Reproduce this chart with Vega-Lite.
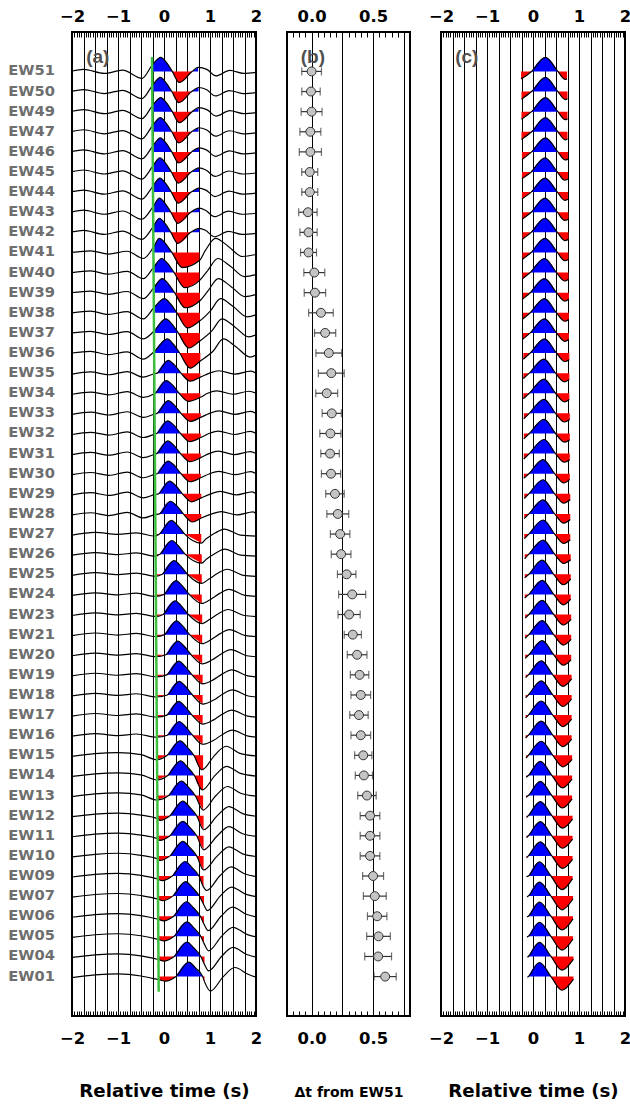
{
"$schema": "https://vega.github.io/schema/vega-lite/v6.json",
"padding": {"left": 7, "top": 7, "right": 5, "bottom": 5},
"bounds": "flush",
"spacing": 31,
"config": {
  "font": "DejaVu Sans",
  "view": {"stroke": "black", "strokeWidth": 2},
  "axis": {"labelFont": "DejaVu Sans", "labelFontWeight": "bold", "labelColor": "black", "titleFont": "DejaVu Sans", "titleFontWeight": "bold", "titleColor": "black", "domain": false, "labelOverlap": false, "labelFlush": false, "labelBound": false}
},
"datasets": {
"gl": [{"t":-0.26,"k":-0.72},{"t":-0.115,"k":45.75}],
"lab": [{"p":"(a)","x":-1.44,"y":-0.72},{"p":"(b)","x":0.01,"y":-0.72},{"p":"(c)","x":-1.44,"y":-0.72}],
"dt": [
{"k":0,"n":"EW51","d":0,"lo":-0.08,"hi":0.08},{"k":1,"n":"EW50","d":-0.005,"lo":-0.08,"hi":0.07},{"k":2,"n":"EW49","d":0,"lo":-0.085,"hi":0.085},{"k":3,"n":"EW47","d":-0.01,"lo":-0.095,"hi":0.075},{"k":4,"n":"EW46","d":-0.01,"lo":-0.1,"hi":0.08},{"k":5,"n":"EW45","d":-0.015,"lo":-0.08,"hi":0.05},{"k":6,"n":"EW44","d":-0.015,"lo":-0.08,"hi":0.05},{"k":7,"n":"EW43","d":-0.03,"lo":-0.105,"hi":0.045},{"k":8,"n":"EW42","d":-0.025,"lo":-0.095,"hi":0.045},{"k":9,"n":"EW41","d":-0.025,"lo":-0.09,"hi":0.04},
{"k":10,"n":"EW40","d":0.022,"lo":-0.063,"hi":0.107},{"k":11,"n":"EW39","d":0.027,"lo":-0.06,"hi":0.114},{"k":12,"n":"EW38","d":0.076,"lo":-0.024,"hi":0.176},{"k":13,"n":"EW37","d":0.11,"lo":0.024,"hi":0.196},{"k":14,"n":"EW36","d":0.14,"lo":0.035,"hi":0.245},{"k":15,"n":"EW35","d":0.16,"lo":0.055,"hi":0.265},{"k":16,"n":"EW34","d":0.123,"lo":0.034,"hi":0.212},{"k":17,"n":"EW33","d":0.164,"lo":0.086,"hi":0.242},{"k":18,"n":"EW32","d":0.153,"lo":0.067,"hi":0.239},{"k":19,"n":"EW31","d":0.15,"lo":0.075,"hi":0.225},
{"k":20,"n":"EW30","d":0.158,"lo":0.08,"hi":0.236},{"k":21,"n":"EW29","d":0.19,"lo":0.115,"hi":0.265},{"k":22,"n":"EW28","d":0.213,"lo":0.124,"hi":0.302},{"k":23,"n":"EW27","d":0.232,"lo":0.153,"hi":0.311},{"k":24,"n":"EW26","d":0.24,"lo":0.16,"hi":0.32},{"k":25,"n":"EW25","d":0.285,"lo":0.21,"hi":0.36},{"k":26,"n":"EW24","d":0.33,"lo":0.22,"hi":0.44},{"k":27,"n":"EW23","d":0.305,"lo":0.215,"hi":0.395},{"k":28,"n":"EW21","d":0.335,"lo":0.265,"hi":0.405},{"k":29,"n":"EW20","d":0.37,"lo":0.29,"hi":0.45},
{"k":30,"n":"EW19","d":0.39,"lo":0.315,"hi":0.465},{"k":31,"n":"EW18","d":0.4,"lo":0.32,"hi":0.48},{"k":32,"n":"EW17","d":0.385,"lo":0.31,"hi":0.46},{"k":33,"n":"EW16","d":0.4,"lo":0.32,"hi":0.48},{"k":34,"n":"EW15","d":0.42,"lo":0.35,"hi":0.49},{"k":35,"n":"EW14","d":0.425,"lo":0.355,"hi":0.495},{"k":36,"n":"EW13","d":0.45,"lo":0.375,"hi":0.525},{"k":37,"n":"EW12","d":0.475,"lo":0.395,"hi":0.555},{"k":38,"n":"EW11","d":0.475,"lo":0.395,"hi":0.555},{"k":39,"n":"EW10","d":0.475,"lo":0.395,"hi":0.555},
{"k":40,"n":"EW09","d":0.5,"lo":0.415,"hi":0.585},{"k":41,"n":"EW07","d":0.514,"lo":0.421,"hi":0.607},{"k":42,"n":"EW06","d":0.533,"lo":0.454,"hi":0.612},{"k":43,"n":"EW05","d":0.544,"lo":0.448,"hi":0.64},{"k":44,"n":"EW04","d":0.541,"lo":0.432,"hi":0.65},{"k":45,"n":"EW01","d":0.598,"lo":0.508,"hi":0.688}
],
"wa": [
{"k":0,"t":-2,"v":-0.02},{"k":0,"t":-1.75,"v":-0.1},{"k":0,"t":-1.3,"v":0.1},{"k":0,"t":-0.9,"v":-0.06},{"k":0,"t":-0.48,"v":0.35},{"k":0,"t":-0.26,"v":-0.3,"g":"p1"},{"k":0,"t":-0.07,"v":-0.7,"g":"p1"},{"k":0,"t":0.06,"v":-0.42,"g":"p1"},{"k":0,"t":0.18,"v":0,"g":"p1"},{"k":0,"t":0.18,"v":0,"g":"n1"},{"k":0,"t":0.33,"v":0.55,"g":"n1"},{"k":0,"t":0.61,"v":0,"g":"n1"},{"k":0,"t":0.61,"v":0,"g":"p2"},{"k":0,"t":0.74,"v":-0.2,"g":"p2"},{"k":0,"t":0.93,"v":-0.1},{"k":0,"t":1.13,"v":0.22},{"k":0,"t":1.43,"v":-0.05},{"k":0,"t":1.73,"v":0.1},{"k":0,"t":2,"v":0.05},
{"k":1,"t":-2,"v":0.98},{"k":1,"t":-1.75,"v":0.9},{"k":1,"t":-1.3,"v":1.1},{"k":1,"t":-0.9,"v":0.94},{"k":1,"t":-0.48,"v":1.35},{"k":1,"t":-0.25,"v":0.7,"g":"p1"},{"k":1,"t":-0.08,"v":0.3,"g":"p1"},{"k":1,"t":0.05,"v":0.58,"g":"p1"},{"k":1,"t":0.17,"v":1,"g":"p1"},{"k":1,"t":0.17,"v":1,"g":"n1"},{"k":1,"t":0.32,"v":1.55,"g":"n1"},{"k":1,"t":0.6,"v":1,"g":"n1"},{"k":1,"t":0.6,"v":1,"g":"p2"},{"k":1,"t":0.75,"v":0.8,"g":"p2"},{"k":1,"t":0.92,"v":0.9},{"k":1,"t":1.12,"v":1.22},{"k":1,"t":1.42,"v":0.95},{"k":1,"t":1.72,"v":1.1},{"k":1,"t":2,"v":1.05},
{"k":2,"t":-2,"v":1.98},{"k":2,"t":-1.75,"v":1.9},{"k":2,"t":-1.3,"v":2.1},{"k":2,"t":-0.9,"v":1.94},{"k":2,"t":-0.48,"v":2.35},{"k":2,"t":-0.25,"v":1.7,"g":"p1"},{"k":2,"t":-0.07,"v":1.3,"g":"p1"},{"k":2,"t":0.06,"v":1.58,"g":"p1"},{"k":2,"t":0.18,"v":2,"g":"p1"},{"k":2,"t":0.18,"v":2,"g":"n1"},{"k":2,"t":0.33,"v":2.55,"g":"n1"},{"k":2,"t":0.61,"v":2,"g":"n1"},{"k":2,"t":0.61,"v":2,"g":"p2"},{"k":2,"t":0.75,"v":1.8,"g":"p2"},{"k":2,"t":0.93,"v":1.9},{"k":2,"t":1.13,"v":2.22},{"k":2,"t":1.43,"v":1.95},{"k":2,"t":1.73,"v":2.1},{"k":2,"t":2,"v":2.05},
{"k":3,"t":-2,"v":2.98},{"k":3,"t":-1.75,"v":2.9},{"k":3,"t":-1.3,"v":3.1},{"k":3,"t":-0.9,"v":2.94},{"k":3,"t":-0.48,"v":3.35},{"k":3,"t":-0.25,"v":2.7,"g":"p1"},{"k":3,"t":-0.08,"v":2.3,"g":"p1"},{"k":3,"t":0.05,"v":2.58,"g":"p1"},{"k":3,"t":0.17,"v":3,"g":"p1"},{"k":3,"t":0.17,"v":3,"g":"n1"},{"k":3,"t":0.32,"v":3.55,"g":"n1"},{"k":3,"t":0.6,"v":3,"g":"n1"},{"k":3,"t":0.6,"v":3,"g":"p2"},{"k":3,"t":0.75,"v":2.8,"g":"p2"},{"k":3,"t":0.92,"v":2.9},{"k":3,"t":1.12,"v":3.22},{"k":3,"t":1.42,"v":2.95},{"k":3,"t":1.72,"v":3.1},{"k":3,"t":2,"v":3.05},
{"k":4,"t":-2,"v":3.98},{"k":4,"t":-1.75,"v":3.9},{"k":4,"t":-1.3,"v":4.1},{"k":4,"t":-0.9,"v":3.94},{"k":4,"t":-0.48,"v":4.35},{"k":4,"t":-0.24,"v":3.7,"g":"p1"},{"k":4,"t":-0.08,"v":3.3,"g":"p1"},{"k":4,"t":0.05,"v":3.58,"g":"p1"},{"k":4,"t":0.17,"v":4,"g":"p1"},{"k":4,"t":0.17,"v":4,"g":"n1"},{"k":4,"t":0.32,"v":4.55,"g":"n1"},{"k":4,"t":0.6,"v":4,"g":"n1"},{"k":4,"t":0.6,"v":4,"g":"p2"},{"k":4,"t":0.76,"v":3.8,"g":"p2"},{"k":4,"t":0.92,"v":3.9},{"k":4,"t":1.12,"v":4.22},{"k":4,"t":1.42,"v":3.95},{"k":4,"t":1.72,"v":4.1},{"k":4,"t":2,"v":4.05},
{"k":5,"t":-2,"v":4.98},{"k":5,"t":-1.75,"v":4.9},{"k":5,"t":-1.3,"v":5.1},{"k":5,"t":-0.9,"v":4.94},{"k":5,"t":-0.48,"v":5.35},{"k":5,"t":-0.24,"v":4.7,"g":"p1"},{"k":5,"t":-0.09,"v":4.3,"g":"p1"},{"k":5,"t":0.04,"v":4.58,"g":"p1"},{"k":5,"t":0.16,"v":5,"g":"p1"},{"k":5,"t":0.16,"v":5,"g":"n1"},{"k":5,"t":0.31,"v":5.55,"g":"n1"},{"k":5,"t":0.59,"v":5,"g":"n1"},{"k":5,"t":0.59,"v":5,"g":"p2"},{"k":5,"t":0.76,"v":4.8,"g":"p2"},{"k":5,"t":0.91,"v":4.9},{"k":5,"t":1.11,"v":5.22},{"k":5,"t":1.41,"v":4.95},{"k":5,"t":1.71,"v":5.1},{"k":5,"t":2,"v":5.05},
{"k":6,"t":-2,"v":5.98},{"k":6,"t":-1.75,"v":5.9},{"k":6,"t":-1.3,"v":6.1},{"k":6,"t":-0.9,"v":5.94},{"k":6,"t":-0.48,"v":6.35},{"k":6,"t":-0.24,"v":5.7,"g":"p1"},{"k":6,"t":-0.09,"v":5.3,"g":"p1"},{"k":6,"t":0.04,"v":5.58,"g":"p1"},{"k":6,"t":0.16,"v":6,"g":"p1"},{"k":6,"t":0.16,"v":6,"g":"n1"},{"k":6,"t":0.31,"v":6.55,"g":"n1"},{"k":6,"t":0.59,"v":6,"g":"n1"},{"k":6,"t":0.59,"v":6,"g":"p2"},{"k":6,"t":0.76,"v":5.8,"g":"p2"},{"k":6,"t":0.91,"v":5.9},{"k":6,"t":1.11,"v":6.22},{"k":6,"t":1.41,"v":5.95},{"k":6,"t":1.71,"v":6.1},{"k":6,"t":2,"v":6.05},
{"k":7,"t":-2,"v":6.98},{"k":7,"t":-1.75,"v":6.9},{"k":7,"t":-1.3,"v":7.1},{"k":7,"t":-0.9,"v":6.94},{"k":7,"t":-0.48,"v":7.35},{"k":7,"t":-0.23,"v":6.7,"g":"p1"},{"k":7,"t":-0.1,"v":6.3,"g":"p1"},{"k":7,"t":0.03,"v":6.58,"g":"p1"},{"k":7,"t":0.15,"v":7,"g":"p1"},{"k":7,"t":0.15,"v":7,"g":"n1"},{"k":7,"t":0.3,"v":7.55,"g":"n1"},{"k":7,"t":0.58,"v":7,"g":"n1"},{"k":7,"t":0.58,"v":7,"g":"p2"},{"k":7,"t":0.77,"v":6.8,"g":"p2"},{"k":7,"t":0.9,"v":6.9},{"k":7,"t":1.1,"v":7.22},{"k":7,"t":1.4,"v":6.95},{"k":7,"t":1.7,"v":7.1},{"k":7,"t":2,"v":7.05},
{"k":8,"t":-2,"v":7.98},{"k":8,"t":-1.75,"v":7.9},{"k":8,"t":-1.3,"v":8.1},{"k":8,"t":-0.9,"v":7.94},{"k":8,"t":-0.48,"v":8.35},{"k":8,"t":-0.23,"v":7.7,"g":"p1"},{"k":8,"t":-0.1,"v":7.3,"g":"p1"},{"k":8,"t":0.03,"v":7.58,"g":"p1"},{"k":8,"t":0.15,"v":8,"g":"p1"},{"k":8,"t":0.15,"v":8,"g":"n1"},{"k":8,"t":0.3,"v":8.55,"g":"n1"},{"k":8,"t":0.58,"v":8,"g":"n1"},{"k":8,"t":0.58,"v":8,"g":"p2"},{"k":8,"t":0.77,"v":7.8,"g":"p2"},{"k":8,"t":0.9,"v":7.9},{"k":8,"t":1.1,"v":8.22},{"k":8,"t":1.4,"v":7.95},{"k":8,"t":1.7,"v":8.1},{"k":8,"t":2,"v":8.05},
{"k":9,"t":-2,"v":9},{"k":9,"t":-1.6,"v":8.92},{"k":9,"t":-1.2,"v":9.08},{"k":9,"t":-0.8,"v":8.94},{"k":9,"t":-0.45,"v":9.3},{"k":9,"t":-0.23,"v":8.75,"g":"p1"},{"k":9,"t":-0.1,"v":8.3,"g":"p1"},{"k":9,"t":0.03,"v":8.55,"g":"p1"},{"k":9,"t":0.17,"v":9,"g":"p1"},{"k":9,"t":0.17,"v":9,"g":"n1"},{"k":9,"t":0.4,"v":9.75,"g":"n1"},{"k":9,"t":0.77,"v":9.4,"g":"n1"},{"k":9,"t":0.9,"v":8.9},{"k":9,"t":1.12,"v":8.3},{"k":9,"t":1.4,"v":8.7},{"k":9,"t":1.7,"v":9.2},{"k":9,"t":2,"v":9.1},
{"k":10,"t":-2,"v":10},{"k":10,"t":-1.6,"v":9.92},{"k":10,"t":-1.2,"v":10.08},{"k":10,"t":-0.8,"v":9.94},{"k":10,"t":-0.45,"v":10.3},{"k":10,"t":-0.23,"v":9.75,"g":"p1"},{"k":10,"t":-0.05,"v":9.3,"g":"p1"},{"k":10,"t":0.08,"v":9.55,"g":"p1"},{"k":10,"t":0.22,"v":10,"g":"p1"},{"k":10,"t":0.22,"v":10,"g":"n1"},{"k":10,"t":0.45,"v":10.75,"g":"n1"},{"k":10,"t":0.77,"v":10.4,"g":"n1"},{"k":10,"t":0.95,"v":9.9},{"k":10,"t":1.17,"v":9.3},{"k":10,"t":1.45,"v":9.7},{"k":10,"t":1.75,"v":10.2},{"k":10,"t":2,"v":10.1},
{"k":11,"t":-2,"v":11},{"k":11,"t":-1.6,"v":10.92},{"k":11,"t":-1.2,"v":11.08},{"k":11,"t":-0.8,"v":10.94},{"k":11,"t":-0.45,"v":11.3},{"k":11,"t":-0.22,"v":10.75,"g":"p1"},{"k":11,"t":-0.04,"v":10.3,"g":"p1"},{"k":11,"t":0.09,"v":10.55,"g":"p1"},{"k":11,"t":0.23,"v":11,"g":"p1"},{"k":11,"t":0.23,"v":11,"g":"n1"},{"k":11,"t":0.46,"v":11.75,"g":"n1"},{"k":11,"t":0.78,"v":11.4,"g":"n1"},{"k":11,"t":0.96,"v":10.9},{"k":11,"t":1.18,"v":10.3},{"k":11,"t":1.46,"v":10.7},{"k":11,"t":1.76,"v":11.2},{"k":11,"t":2,"v":11.1},
{"k":12,"t":-2,"v":12},{"k":12,"t":-1.6,"v":11.92},{"k":12,"t":-1.2,"v":12.08},{"k":12,"t":-0.8,"v":11.94},{"k":12,"t":-0.45,"v":12.3},{"k":12,"t":-0.22,"v":11.75,"g":"p1"},{"k":12,"t":0.01,"v":11.3,"g":"p1"},{"k":12,"t":0.14,"v":11.55,"g":"p1"},{"k":12,"t":0.28,"v":12,"g":"p1"},{"k":12,"t":0.28,"v":12,"g":"n1"},{"k":12,"t":0.51,"v":12.75,"g":"n1"},{"k":12,"t":0.78,"v":12.4,"g":"n1"},{"k":12,"t":1.01,"v":11.9},{"k":12,"t":1.23,"v":11.3},{"k":12,"t":1.51,"v":11.7},{"k":12,"t":1.81,"v":12.2},{"k":12,"t":2,"v":12.1},
{"k":13,"t":-2,"v":13},{"k":13,"t":-1.6,"v":12.92},{"k":13,"t":-1.2,"v":13.08},{"k":13,"t":-0.8,"v":12.94},{"k":13,"t":-0.45,"v":13.3},{"k":13,"t":-0.22,"v":12.92,"g":"p1"},{"k":13,"t":0.04,"v":12.3,"g":"p1"},{"k":13,"t":0.17,"v":12.55,"g":"p1"},{"k":13,"t":0.31,"v":13,"g":"p1"},{"k":13,"t":0.31,"v":13,"g":"n1"},{"k":13,"t":0.54,"v":13.75,"g":"n1"},{"k":13,"t":0.78,"v":13.4,"g":"n1"},{"k":13,"t":1.04,"v":12.9},{"k":13,"t":1.26,"v":12.3},{"k":13,"t":1.54,"v":12.7},{"k":13,"t":1.84,"v":13.2},{"k":13,"t":2,"v":13.1},
{"k":14,"t":-2,"v":14},{"k":14,"t":-1.6,"v":13.92},{"k":14,"t":-1.2,"v":14.08},{"k":14,"t":-0.8,"v":13.94},{"k":14,"t":-0.45,"v":14.3},{"k":14,"t":-0.21,"v":13.92,"g":"p1"},{"k":14,"t":0.07,"v":13.3,"g":"p1"},{"k":14,"t":0.2,"v":13.55,"g":"p1"},{"k":14,"t":0.34,"v":14,"g":"p1"},{"k":14,"t":0.34,"v":14,"g":"n1"},{"k":14,"t":0.57,"v":14.75,"g":"n1"},{"k":14,"t":0.79,"v":14.4,"g":"n1"},{"k":14,"t":1.07,"v":13.9},{"k":14,"t":1.29,"v":13.3},{"k":14,"t":1.57,"v":13.7},{"k":14,"t":1.87,"v":14.2},{"k":14,"t":2,"v":14.1},
{"k":15,"t":-2,"v":15.05},{"k":15,"t":-1.6,"v":14.94},{"k":15,"t":-1.2,"v":15.08},{"k":15,"t":-0.8,"v":14.92},{"k":15,"t":-0.45,"v":15.2},{"k":15,"t":-0.21,"v":15.03},{"k":15,"t":-0.15,"v":15,"g":"p1"},{"k":15,"t":0.09,"v":14.37,"g":"p1"},{"k":15,"t":0.23,"v":14.6,"g":"p1"},{"k":15,"t":0.37,"v":15,"g":"p1"},{"k":15,"t":0.37,"v":15,"g":"n1"},{"k":15,"t":0.57,"v":15.4,"g":"n1"},{"k":15,"t":0.79,"v":15.2,"g":"n1"},{"k":15,"t":0.99,"v":15},{"k":15,"t":1.19,"v":14.88},{"k":15,"t":1.54,"v":15.05},{"k":15,"t":1.89,"v":14.9},{"k":15,"t":2,"v":15},
{"k":16,"t":-2,"v":16.05},{"k":16,"t":-1.6,"v":15.94},{"k":16,"t":-1.2,"v":16.08},{"k":16,"t":-0.8,"v":15.92},{"k":16,"t":-0.45,"v":16.2},{"k":16,"t":-0.21,"v":16.03},{"k":16,"t":-0.19,"v":16,"g":"p1"},{"k":16,"t":0.05,"v":15.37,"g":"p1"},{"k":16,"t":0.19,"v":15.6,"g":"p1"},{"k":16,"t":0.33,"v":16,"g":"p1"},{"k":16,"t":0.33,"v":16,"g":"n1"},{"k":16,"t":0.53,"v":16.4,"g":"n1"},{"k":16,"t":0.79,"v":16.2,"g":"n1"},{"k":16,"t":0.95,"v":16},{"k":16,"t":1.15,"v":15.88},{"k":16,"t":1.5,"v":16.05},{"k":16,"t":1.85,"v":15.9},{"k":16,"t":2,"v":16},
{"k":17,"t":-2,"v":17.05},{"k":17,"t":-1.6,"v":16.94},{"k":17,"t":-1.2,"v":17.08},{"k":17,"t":-0.8,"v":16.92},{"k":17,"t":-0.45,"v":17.2},{"k":17,"t":-0.2,"v":17.03},{"k":17,"t":-0.15,"v":17,"g":"p1"},{"k":17,"t":0.09,"v":16.37,"g":"p1"},{"k":17,"t":0.23,"v":16.6,"g":"p1"},{"k":17,"t":0.37,"v":17,"g":"p1"},{"k":17,"t":0.37,"v":17,"g":"n1"},{"k":17,"t":0.57,"v":17.4,"g":"n1"},{"k":17,"t":0.8,"v":17.2,"g":"n1"},{"k":17,"t":0.99,"v":17},{"k":17,"t":1.19,"v":16.88},{"k":17,"t":1.54,"v":17.05},{"k":17,"t":1.89,"v":16.9},{"k":17,"t":2,"v":17},
{"k":18,"t":-2,"v":18.05},{"k":18,"t":-1.6,"v":17.94},{"k":18,"t":-1.2,"v":18.08},{"k":18,"t":-0.8,"v":17.92},{"k":18,"t":-0.45,"v":18.2},{"k":18,"t":-0.2,"v":18.03},{"k":18,"t":-0.16,"v":18,"g":"p1"},{"k":18,"t":0.08,"v":17.37,"g":"p1"},{"k":18,"t":0.22,"v":17.6,"g":"p1"},{"k":18,"t":0.36,"v":18,"g":"p1"},{"k":18,"t":0.36,"v":18,"g":"n1"},{"k":18,"t":0.56,"v":18.4,"g":"n1"},{"k":18,"t":0.8,"v":18.2,"g":"n1"},{"k":18,"t":0.98,"v":18},{"k":18,"t":1.18,"v":17.88},{"k":18,"t":1.53,"v":18.05},{"k":18,"t":1.88,"v":17.9},{"k":18,"t":2,"v":18},
{"k":19,"t":-2,"v":19.05},{"k":19,"t":-1.6,"v":18.94},{"k":19,"t":-1.2,"v":19.08},{"k":19,"t":-0.8,"v":18.92},{"k":19,"t":-0.45,"v":19.2},{"k":19,"t":-0.2,"v":19.03},{"k":19,"t":-0.16,"v":19,"g":"p1"},{"k":19,"t":0.08,"v":18.37,"g":"p1"},{"k":19,"t":0.22,"v":18.6,"g":"p1"},{"k":19,"t":0.36,"v":19,"g":"p1"},{"k":19,"t":0.36,"v":19,"g":"n1"},{"k":19,"t":0.56,"v":19.4,"g":"n1"},{"k":19,"t":0.8,"v":19.2,"g":"n1"},{"k":19,"t":0.98,"v":19},{"k":19,"t":1.18,"v":18.88},{"k":19,"t":1.53,"v":19.05},{"k":19,"t":1.88,"v":18.9},{"k":19,"t":2,"v":19},
{"k":20,"t":-2,"v":20.05},{"k":20,"t":-1.6,"v":19.94},{"k":20,"t":-1.2,"v":20.08},{"k":20,"t":-0.8,"v":19.92},{"k":20,"t":-0.45,"v":20.2},{"k":20,"t":-0.2,"v":20.03},{"k":20,"t":-0.15,"v":20,"g":"p1"},{"k":20,"t":0.09,"v":19.37,"g":"p1"},{"k":20,"t":0.23,"v":19.6,"g":"p1"},{"k":20,"t":0.37,"v":20,"g":"p1"},{"k":20,"t":0.37,"v":20,"g":"n1"},{"k":20,"t":0.57,"v":20.4,"g":"n1"},{"k":20,"t":0.8,"v":20.2,"g":"n1"},{"k":20,"t":0.99,"v":20},{"k":20,"t":1.19,"v":19.88},{"k":20,"t":1.54,"v":20.05},{"k":20,"t":1.89,"v":19.9},{"k":20,"t":2,"v":20},
{"k":21,"t":-2,"v":21.05},{"k":21,"t":-1.6,"v":20.94},{"k":21,"t":-1.2,"v":21.08},{"k":21,"t":-0.8,"v":20.92},{"k":21,"t":-0.45,"v":21.2},{"k":21,"t":-0.19,"v":21.03},{"k":21,"t":-0.12,"v":21,"g":"p1"},{"k":21,"t":0.12,"v":20.37,"g":"p1"},{"k":21,"t":0.26,"v":20.6,"g":"p1"},{"k":21,"t":0.4,"v":21,"g":"p1"},{"k":21,"t":0.4,"v":21,"g":"n1"},{"k":21,"t":0.6,"v":21.4,"g":"n1"},{"k":21,"t":0.81,"v":21.2,"g":"n1"},{"k":21,"t":1.02,"v":21},{"k":21,"t":1.22,"v":20.88},{"k":21,"t":1.57,"v":21.05},{"k":21,"t":1.92,"v":20.9},{"k":21,"t":2,"v":21},
{"k":22,"t":-2,"v":22.05},{"k":22,"t":-1.6,"v":21.94},{"k":22,"t":-1.2,"v":22.08},{"k":22,"t":-0.8,"v":21.92},{"k":22,"t":-0.45,"v":22.2},{"k":22,"t":-0.19,"v":22.03},{"k":22,"t":-0.1,"v":22,"g":"p1"},{"k":22,"t":0.14,"v":21.37,"g":"p1"},{"k":22,"t":0.28,"v":21.6,"g":"p1"},{"k":22,"t":0.42,"v":22,"g":"p1"},{"k":22,"t":0.42,"v":22,"g":"n1"},{"k":22,"t":0.62,"v":22.4,"g":"n1"},{"k":22,"t":0.81,"v":22.2,"g":"n1"},{"k":22,"t":1.04,"v":22},{"k":22,"t":1.24,"v":21.88},{"k":22,"t":1.59,"v":22.05},{"k":22,"t":1.94,"v":21.9},{"k":22,"t":2,"v":22},
{"k":23,"t":-2,"v":23.05},{"k":23,"t":-1.5,"v":22.92},{"k":23,"t":-1,"v":23.02},{"k":23,"t":-0.6,"v":22.94},{"k":23,"t":-0.19,"v":23.1,"g":"n0"},{"k":23,"t":-0.1,"v":23,"g":"n0"},{"k":23,"t":-0.1,"v":23,"g":"p1"},{"k":23,"t":0.16,"v":22.32,"g":"p1"},{"k":23,"t":0.3,"v":22.58,"g":"p1"},{"k":23,"t":0.45,"v":23,"g":"p1"},{"k":23,"t":0.45,"v":23,"g":"n1"},{"k":23,"t":0.81,"v":23.45,"g":"n1"},{"k":23,"t":0.91,"v":23.25},{"k":23,"t":1.11,"v":22.95},{"k":23,"t":1.31,"v":22.75},{"k":23,"t":1.66,"v":23.05},{"k":23,"t":2,"v":23.1},
{"k":24,"t":-2,"v":24.05},{"k":24,"t":-1.5,"v":23.92},{"k":24,"t":-1,"v":24.02},{"k":24,"t":-0.6,"v":23.94},{"k":24,"t":-0.18,"v":24.1,"g":"n0"},{"k":24,"t":-0.09,"v":24,"g":"n0"},{"k":24,"t":-0.09,"v":24,"g":"p1"},{"k":24,"t":0.17,"v":23.32,"g":"p1"},{"k":24,"t":0.31,"v":23.58,"g":"p1"},{"k":24,"t":0.46,"v":24,"g":"p1"},{"k":24,"t":0.46,"v":24,"g":"n1"},{"k":24,"t":0.82,"v":24.45,"g":"n1"},{"k":24,"t":0.92,"v":24.25},{"k":24,"t":1.12,"v":23.95},{"k":24,"t":1.32,"v":23.75},{"k":24,"t":1.67,"v":24.05},{"k":24,"t":2,"v":24.1},
{"k":25,"t":-2,"v":25.05},{"k":25,"t":-1.5,"v":24.92},{"k":25,"t":-1,"v":25.02},{"k":25,"t":-0.6,"v":24.94},{"k":25,"t":-0.18,"v":25.1,"g":"n0"},{"k":25,"t":-0.04,"v":25,"g":"n0"},{"k":25,"t":-0.04,"v":25,"g":"p1"},{"k":25,"t":0.22,"v":24.32,"g":"p1"},{"k":25,"t":0.36,"v":24.58,"g":"p1"},{"k":25,"t":0.51,"v":25,"g":"p1"},{"k":25,"t":0.51,"v":25,"g":"n1"},{"k":25,"t":0.82,"v":25.45,"g":"n1"},{"k":25,"t":0.97,"v":25.25},{"k":25,"t":1.17,"v":24.95},{"k":25,"t":1.37,"v":24.75},{"k":25,"t":1.72,"v":25.05},{"k":25,"t":2,"v":25.1},
{"k":26,"t":-2,"v":26.05},{"k":26,"t":-1.5,"v":25.92},{"k":26,"t":-1,"v":26.02},{"k":26,"t":-0.6,"v":25.94},{"k":26,"t":-0.18,"v":26.1,"g":"n0"},{"k":26,"t":0,"v":26,"g":"n0"},{"k":26,"t":0,"v":26,"g":"p1"},{"k":26,"t":0.26,"v":25.32,"g":"p1"},{"k":26,"t":0.4,"v":25.58,"g":"p1"},{"k":26,"t":0.55,"v":26,"g":"p1"},{"k":26,"t":0.55,"v":26,"g":"n1"},{"k":26,"t":0.82,"v":26.45,"g":"n1"},{"k":26,"t":1.01,"v":26.25},{"k":26,"t":1.21,"v":25.95},{"k":26,"t":1.41,"v":25.75},{"k":26,"t":1.76,"v":26.05},{"k":26,"t":2,"v":26.1},
{"k":27,"t":-2,"v":27.05},{"k":27,"t":-1.5,"v":26.92},{"k":27,"t":-1,"v":27.02},{"k":27,"t":-0.6,"v":26.94},{"k":27,"t":-0.17,"v":27.1,"g":"n0"},{"k":27,"t":-0.02,"v":27,"g":"n0"},{"k":27,"t":-0.02,"v":27,"g":"p1"},{"k":27,"t":0.24,"v":26.32,"g":"p1"},{"k":27,"t":0.38,"v":26.58,"g":"p1"},{"k":27,"t":0.53,"v":27,"g":"p1"},{"k":27,"t":0.53,"v":27,"g":"n1"},{"k":27,"t":0.83,"v":27.45,"g":"n1"},{"k":27,"t":0.99,"v":27.25},{"k":27,"t":1.19,"v":26.95},{"k":27,"t":1.39,"v":26.75},{"k":27,"t":1.74,"v":27.05},{"k":27,"t":2,"v":27.1},
{"k":28,"t":-2,"v":28.05},{"k":28,"t":-1.5,"v":27.92},{"k":28,"t":-1,"v":28.02},{"k":28,"t":-0.6,"v":27.94},{"k":28,"t":-0.17,"v":28.1,"g":"n0"},{"k":28,"t":0.01,"v":28,"g":"n0"},{"k":28,"t":0.01,"v":28,"g":"p1"},{"k":28,"t":0.27,"v":27.32,"g":"p1"},{"k":28,"t":0.41,"v":27.58,"g":"p1"},{"k":28,"t":0.56,"v":28,"g":"p1"},{"k":28,"t":0.56,"v":28,"g":"n1"},{"k":28,"t":0.83,"v":28.45,"g":"n1"},{"k":28,"t":1.02,"v":28.25},{"k":28,"t":1.22,"v":27.95},{"k":28,"t":1.42,"v":27.75},{"k":28,"t":1.77,"v":28.05},{"k":28,"t":2,"v":28.1},
{"k":29,"t":-2,"v":29.05},{"k":29,"t":-1.5,"v":28.92},{"k":29,"t":-1,"v":29.02},{"k":29,"t":-0.6,"v":28.94},{"k":29,"t":-0.17,"v":29.1,"g":"n0"},{"k":29,"t":0.04,"v":29,"g":"n0"},{"k":29,"t":0.04,"v":29,"g":"p1"},{"k":29,"t":0.3,"v":28.32,"g":"p1"},{"k":29,"t":0.44,"v":28.58,"g":"p1"},{"k":29,"t":0.59,"v":29,"g":"p1"},{"k":29,"t":0.59,"v":29,"g":"n1"},{"k":29,"t":0.83,"v":29.45,"g":"n1"},{"k":29,"t":1.05,"v":29.25},{"k":29,"t":1.25,"v":28.95},{"k":29,"t":1.45,"v":28.75},{"k":29,"t":1.8,"v":29.05},{"k":29,"t":2,"v":29.1},
{"k":30,"t":-2,"v":30.05},{"k":30,"t":-1.5,"v":29.92},{"k":30,"t":-1,"v":30.02},{"k":30,"t":-0.6,"v":29.94},{"k":30,"t":-0.16,"v":30.1,"g":"n0"},{"k":30,"t":0.06,"v":30,"g":"n0"},{"k":30,"t":0.06,"v":30,"g":"p1"},{"k":30,"t":0.32,"v":29.32,"g":"p1"},{"k":30,"t":0.46,"v":29.58,"g":"p1"},{"k":30,"t":0.61,"v":30,"g":"p1"},{"k":30,"t":0.61,"v":30,"g":"n1"},{"k":30,"t":0.84,"v":30.45,"g":"n1"},{"k":30,"t":1.07,"v":30.25},{"k":30,"t":1.27,"v":29.95},{"k":30,"t":1.47,"v":29.75},{"k":30,"t":1.82,"v":30.05},{"k":30,"t":2,"v":30.1},
{"k":31,"t":-2,"v":31.05},{"k":31,"t":-1.5,"v":30.92},{"k":31,"t":-1,"v":31.02},{"k":31,"t":-0.6,"v":30.94},{"k":31,"t":-0.16,"v":31.1,"g":"n0"},{"k":31,"t":0.07,"v":31,"g":"n0"},{"k":31,"t":0.07,"v":31,"g":"p1"},{"k":31,"t":0.33,"v":30.32,"g":"p1"},{"k":31,"t":0.47,"v":30.58,"g":"p1"},{"k":31,"t":0.62,"v":31,"g":"p1"},{"k":31,"t":0.62,"v":31,"g":"n1"},{"k":31,"t":0.84,"v":31.45,"g":"n1"},{"k":31,"t":1.08,"v":31.25},{"k":31,"t":1.28,"v":30.95},{"k":31,"t":1.48,"v":30.75},{"k":31,"t":1.83,"v":31.05},{"k":31,"t":2,"v":31.1},
{"k":32,"t":-2,"v":32.05},{"k":32,"t":-1.5,"v":31.92},{"k":32,"t":-1,"v":32.02},{"k":32,"t":-0.6,"v":31.94},{"k":32,"t":-0.16,"v":32.1,"g":"n0"},{"k":32,"t":0.06,"v":32,"g":"n0"},{"k":32,"t":0.06,"v":32,"g":"p1"},{"k":32,"t":0.32,"v":31.32,"g":"p1"},{"k":32,"t":0.46,"v":31.58,"g":"p1"},{"k":32,"t":0.61,"v":32,"g":"p1"},{"k":32,"t":0.61,"v":32,"g":"n1"},{"k":32,"t":0.84,"v":32.45,"g":"n1"},{"k":32,"t":1.07,"v":32.25},{"k":32,"t":1.27,"v":31.95},{"k":32,"t":1.47,"v":31.75},{"k":32,"t":1.82,"v":32.05},{"k":32,"t":2,"v":32.1},
{"k":33,"t":-2,"v":33.05},{"k":33,"t":-1.5,"v":32.92},{"k":33,"t":-1,"v":33.02},{"k":33,"t":-0.6,"v":32.94},{"k":33,"t":-0.16,"v":33.1,"g":"n0"},{"k":33,"t":0.07,"v":33,"g":"n0"},{"k":33,"t":0.07,"v":33,"g":"p1"},{"k":33,"t":0.33,"v":32.32,"g":"p1"},{"k":33,"t":0.47,"v":32.58,"g":"p1"},{"k":33,"t":0.62,"v":33,"g":"p1"},{"k":33,"t":0.62,"v":33,"g":"n1"},{"k":33,"t":0.84,"v":33.45,"g":"n1"},{"k":33,"t":1.08,"v":33.25},{"k":33,"t":1.28,"v":32.95},{"k":33,"t":1.48,"v":32.75},{"k":33,"t":1.83,"v":33.05},{"k":33,"t":2,"v":33.1},
{"k":34,"t":-2,"v":34.05},{"k":34,"t":-1.5,"v":33.92},{"k":34,"t":-1,"v":33.87},{"k":34,"t":-0.5,"v":33.97},{"k":34,"t":-0.15,"v":34.22,"g":"n0"},{"k":34,"t":0.07,"v":34,"g":"n0"},{"k":34,"t":0.07,"v":34,"g":"p1"},{"k":34,"t":0.35,"v":33.28,"g":"p1"},{"k":34,"t":0.5,"v":33.58,"g":"p1"},{"k":34,"t":0.65,"v":34,"g":"p1"},{"k":34,"t":0.65,"v":34,"g":"n1"},{"k":34,"t":0.82,"v":34.72,"g":"n1"},{"k":34,"t":0.85,"v":34.7,"g":"n1"},{"k":34,"t":1.1,"v":34},{"k":34,"t":1.35,"v":33.55},{"k":34,"t":1.65,"v":33.9},{"k":34,"t":2,"v":34.03},
{"k":35,"t":-2,"v":35.05},{"k":35,"t":-1.5,"v":34.92},{"k":35,"t":-1,"v":34.87},{"k":35,"t":-0.5,"v":34.97},{"k":35,"t":-0.15,"v":35.22,"g":"n0"},{"k":35,"t":0.08,"v":35,"g":"n0"},{"k":35,"t":0.08,"v":35,"g":"p1"},{"k":35,"t":0.36,"v":34.28,"g":"p1"},{"k":35,"t":0.51,"v":34.58,"g":"p1"},{"k":35,"t":0.66,"v":35,"g":"p1"},{"k":35,"t":0.66,"v":35,"g":"n1"},{"k":35,"t":0.83,"v":35.72,"g":"n1"},{"k":35,"t":0.85,"v":35.71,"g":"n1"},{"k":35,"t":1.11,"v":35},{"k":35,"t":1.36,"v":34.55},{"k":35,"t":1.66,"v":34.9},{"k":35,"t":2,"v":35.03},
{"k":36,"t":-2,"v":36.05},{"k":36,"t":-1.5,"v":35.92},{"k":36,"t":-1,"v":35.87},{"k":36,"t":-0.5,"v":35.97},{"k":36,"t":-0.15,"v":36.22,"g":"n0"},{"k":36,"t":0.1,"v":36,"g":"n0"},{"k":36,"t":0.1,"v":36,"g":"p1"},{"k":36,"t":0.38,"v":35.28,"g":"p1"},{"k":36,"t":0.53,"v":35.58,"g":"p1"},{"k":36,"t":0.68,"v":36,"g":"p1"},{"k":36,"t":0.68,"v":36,"g":"n1"},{"k":36,"t":0.85,"v":36.72,"g":"n1"},{"k":36,"t":1.13,"v":36},{"k":36,"t":1.38,"v":35.55},{"k":36,"t":1.68,"v":35.9},{"k":36,"t":2,"v":36.03},
{"k":37,"t":-2,"v":37.05},{"k":37,"t":-1.5,"v":36.92},{"k":37,"t":-1,"v":36.87},{"k":37,"t":-0.5,"v":36.97},{"k":37,"t":-0.14,"v":37.15,"g":"n0"},{"k":37,"t":-0.09,"v":37.23,"g":"n0"},{"k":37,"t":0.13,"v":37,"g":"n0"},{"k":37,"t":0.13,"v":37,"g":"p1"},{"k":37,"t":0.41,"v":36.28,"g":"p1"},{"k":37,"t":0.56,"v":36.58,"g":"p1"},{"k":37,"t":0.71,"v":37,"g":"p1"},{"k":37,"t":0.71,"v":37,"g":"n1"},{"k":37,"t":0.86,"v":37.7,"g":"n1"},{"k":37,"t":1.16,"v":37},{"k":37,"t":1.41,"v":36.55},{"k":37,"t":1.71,"v":36.9},{"k":37,"t":2,"v":37.03},
{"k":38,"t":-2,"v":38.05},{"k":38,"t":-1.5,"v":37.92},{"k":38,"t":-1,"v":37.87},{"k":38,"t":-0.5,"v":37.97},{"k":38,"t":-0.14,"v":38.15,"g":"n0"},{"k":38,"t":-0.09,"v":38.23,"g":"n0"},{"k":38,"t":0.13,"v":38,"g":"n0"},{"k":38,"t":0.13,"v":38,"g":"p1"},{"k":38,"t":0.41,"v":37.28,"g":"p1"},{"k":38,"t":0.56,"v":37.58,"g":"p1"},{"k":38,"t":0.71,"v":38,"g":"p1"},{"k":38,"t":0.71,"v":38,"g":"n1"},{"k":38,"t":0.86,"v":38.7,"g":"n1"},{"k":38,"t":1.16,"v":38},{"k":38,"t":1.41,"v":37.55},{"k":38,"t":1.71,"v":37.9},{"k":38,"t":2,"v":38.03},
{"k":39,"t":-2,"v":39.05},{"k":39,"t":-1.5,"v":38.92},{"k":39,"t":-1,"v":38.87},{"k":39,"t":-0.5,"v":38.97},{"k":39,"t":-0.14,"v":39.15,"g":"n0"},{"k":39,"t":-0.09,"v":39.23,"g":"n0"},{"k":39,"t":0.13,"v":39,"g":"n0"},{"k":39,"t":0.13,"v":39,"g":"p1"},{"k":39,"t":0.41,"v":38.28,"g":"p1"},{"k":39,"t":0.56,"v":38.58,"g":"p1"},{"k":39,"t":0.71,"v":39,"g":"p1"},{"k":39,"t":0.71,"v":39,"g":"n1"},{"k":39,"t":0.86,"v":39.7,"g":"n1"},{"k":39,"t":1.16,"v":39},{"k":39,"t":1.41,"v":38.55},{"k":39,"t":1.71,"v":38.9},{"k":39,"t":2,"v":39.03},
{"k":40,"t":-2,"v":40.05},{"k":40,"t":-1.5,"v":39.92},{"k":40,"t":-1,"v":39.87},{"k":40,"t":-0.5,"v":39.97},{"k":40,"t":-0.14,"v":40.15,"g":"n0"},{"k":40,"t":-0.04,"v":40.23,"g":"n0"},{"k":40,"t":0.18,"v":40,"g":"n0"},{"k":40,"t":0.18,"v":40,"g":"p1"},{"k":40,"t":0.46,"v":39.28,"g":"p1"},{"k":40,"t":0.61,"v":39.58,"g":"p1"},{"k":40,"t":0.76,"v":40,"g":"p1"},{"k":40,"t":0.76,"v":40,"g":"n1"},{"k":40,"t":0.86,"v":40.55,"g":"n1"},{"k":40,"t":0.93,"v":40.72},{"k":40,"t":1.21,"v":40},{"k":40,"t":1.46,"v":39.55},{"k":40,"t":1.76,"v":39.9},{"k":40,"t":2,"v":40.03},
{"k":41,"t":-2,"v":41.05},{"k":41,"t":-1.5,"v":40.92},{"k":41,"t":-1,"v":40.87},{"k":41,"t":-0.5,"v":40.97},{"k":41,"t":-0.13,"v":41.15,"g":"n0"},{"k":41,"t":-0.03,"v":41.23,"g":"n0"},{"k":41,"t":0.19,"v":41,"g":"n0"},{"k":41,"t":0.19,"v":41,"g":"p1"},{"k":41,"t":0.47,"v":40.28,"g":"p1"},{"k":41,"t":0.62,"v":40.58,"g":"p1"},{"k":41,"t":0.77,"v":41,"g":"p1"},{"k":41,"t":0.77,"v":41,"g":"n1"},{"k":41,"t":0.87,"v":41.45,"g":"n1"},{"k":41,"t":0.94,"v":41.72},{"k":41,"t":1.22,"v":41},{"k":41,"t":1.47,"v":40.55},{"k":41,"t":1.77,"v":40.9},{"k":41,"t":2,"v":41.03},
{"k":42,"t":-2,"v":42.05},{"k":42,"t":-1.5,"v":41.92},{"k":42,"t":-1,"v":41.87},{"k":42,"t":-0.5,"v":41.97},{"k":42,"t":-0.13,"v":42.15,"g":"n0"},{"k":42,"t":-0.01,"v":42.23,"g":"n0"},{"k":42,"t":0.21,"v":42,"g":"n0"},{"k":42,"t":0.21,"v":42,"g":"p1"},{"k":42,"t":0.49,"v":41.28,"g":"p1"},{"k":42,"t":0.64,"v":41.58,"g":"p1"},{"k":42,"t":0.79,"v":42,"g":"p1"},{"k":42,"t":0.79,"v":42,"g":"n1"},{"k":42,"t":0.87,"v":42.4,"g":"n1"},{"k":42,"t":0.96,"v":42.72},{"k":42,"t":1.24,"v":42},{"k":42,"t":1.49,"v":41.55},{"k":42,"t":1.79,"v":41.9},{"k":42,"t":2,"v":42.03},
{"k":43,"t":-2,"v":43.05},{"k":43,"t":-1.5,"v":42.92},{"k":43,"t":-1,"v":42.87},{"k":43,"t":-0.5,"v":42.97},{"k":43,"t":-0.13,"v":43.15,"g":"n0"},{"k":43,"t":0,"v":43.23,"g":"n0"},{"k":43,"t":0.22,"v":43,"g":"n0"},{"k":43,"t":0.22,"v":43,"g":"p1"},{"k":43,"t":0.5,"v":42.28,"g":"p1"},{"k":43,"t":0.65,"v":42.58,"g":"p1"},{"k":43,"t":0.8,"v":43,"g":"p1"},{"k":43,"t":0.8,"v":43,"g":"n1"},{"k":43,"t":0.87,"v":43.35,"g":"n1"},{"k":43,"t":0.97,"v":43.72},{"k":43,"t":1.25,"v":43},{"k":43,"t":1.5,"v":42.55},{"k":43,"t":1.8,"v":42.9},{"k":43,"t":2,"v":43.03},
{"k":44,"t":-2,"v":44.05},{"k":44,"t":-1.5,"v":43.92},{"k":44,"t":-1,"v":43.87},{"k":44,"t":-0.5,"v":43.97},{"k":44,"t":-0.12,"v":44.15,"g":"n0"},{"k":44,"t":0,"v":44.23,"g":"n0"},{"k":44,"t":0.22,"v":44,"g":"n0"},{"k":44,"t":0.22,"v":44,"g":"p1"},{"k":44,"t":0.5,"v":43.28,"g":"p1"},{"k":44,"t":0.65,"v":43.58,"g":"p1"},{"k":44,"t":0.8,"v":44,"g":"p1"},{"k":44,"t":0.8,"v":44,"g":"n1"},{"k":44,"t":0.88,"v":44.4,"g":"n1"},{"k":44,"t":0.97,"v":44.72},{"k":44,"t":1.25,"v":44},{"k":44,"t":1.5,"v":43.55},{"k":44,"t":1.8,"v":43.9},{"k":44,"t":2,"v":44.03},
{"k":45,"t":-2,"v":45.05},{"k":45,"t":-1.5,"v":44.92},{"k":45,"t":-1,"v":44.87},{"k":45,"t":-0.5,"v":44.97},{"k":45,"t":-0.12,"v":45.15,"g":"n0"},{"k":45,"t":0.04,"v":45.23,"g":"n0"},{"k":45,"t":0.26,"v":45,"g":"n0"},{"k":45,"t":0.26,"v":45,"g":"p1"},{"k":45,"t":0.54,"v":44.28,"g":"p1"},{"k":45,"t":0.69,"v":44.58,"g":"p1"},{"k":45,"t":0.84,"v":45,"g":"p1"},{"k":45,"t":0.84,"v":45,"g":"n1"},{"k":45,"t":0.88,"v":45.25,"g":"n1"},{"k":45,"t":1.01,"v":45.72},{"k":45,"t":1.29,"v":45},{"k":45,"t":1.54,"v":44.55},{"k":45,"t":1.84,"v":44.9},{"k":45,"t":2,"v":45.03}
],
"wc": [
{"k":0,"t":-0.26,"v":0.38,"g":"n0"},{"k":0,"t":-0.03,"v":0,"g":"n0"},{"k":0,"t":-0.03,"v":0,"g":"p1"},{"k":0,"t":0.27,"v":-0.7,"g":"p1"},{"k":0,"t":0.54,"v":0,"g":"p1"},{"k":0,"t":0.54,"v":0,"g":"n1"},{"k":0,"t":0.7,"v":0.4,"g":"n1"},{"k":0,"t":0.74,"v":0.36,"g":"n1"},
{"k":1,"t":-0.25,"v":1.38,"g":"n0"},{"k":1,"t":-0.03,"v":1,"g":"n0"},{"k":1,"t":-0.03,"v":1,"g":"p1"},{"k":1,"t":0.27,"v":0.3,"g":"p1"},{"k":1,"t":0.54,"v":1,"g":"p1"},{"k":1,"t":0.54,"v":1,"g":"n1"},{"k":1,"t":0.7,"v":1.4,"g":"n1"},{"k":1,"t":0.75,"v":1.36,"g":"n1"},
{"k":2,"t":-0.25,"v":2.38,"g":"n0"},{"k":2,"t":-0.03,"v":2,"g":"n0"},{"k":2,"t":-0.03,"v":2,"g":"p1"},{"k":2,"t":0.27,"v":1.3,"g":"p1"},{"k":2,"t":0.54,"v":2,"g":"p1"},{"k":2,"t":0.54,"v":2,"g":"n1"},{"k":2,"t":0.7,"v":2.4,"g":"n1"},{"k":2,"t":0.75,"v":2.36,"g":"n1"},
{"k":3,"t":-0.25,"v":3.38,"g":"n0"},{"k":3,"t":-0.03,"v":3,"g":"n0"},{"k":3,"t":-0.03,"v":3,"g":"p1"},{"k":3,"t":0.27,"v":2.3,"g":"p1"},{"k":3,"t":0.54,"v":3,"g":"p1"},{"k":3,"t":0.54,"v":3,"g":"n1"},{"k":3,"t":0.7,"v":3.4,"g":"n1"},{"k":3,"t":0.75,"v":3.36,"g":"n1"},
{"k":4,"t":-0.24,"v":4.38,"g":"n0"},{"k":4,"t":-0.03,"v":4,"g":"n0"},{"k":4,"t":-0.03,"v":4,"g":"p1"},{"k":4,"t":0.27,"v":3.3,"g":"p1"},{"k":4,"t":0.54,"v":4,"g":"p1"},{"k":4,"t":0.54,"v":4,"g":"n1"},{"k":4,"t":0.7,"v":4.4,"g":"n1"},{"k":4,"t":0.76,"v":4.36,"g":"n1"},
{"k":5,"t":-0.24,"v":5.34,"g":"n0"},{"k":5,"t":-0.04,"v":5,"g":"n0"},{"k":5,"t":-0.04,"v":5,"g":"p1"},{"k":5,"t":0.26,"v":4.3,"g":"p1"},{"k":5,"t":0.53,"v":5,"g":"p1"},{"k":5,"t":0.53,"v":5,"g":"n1"},{"k":5,"t":0.69,"v":5.41,"g":"n1"},{"k":5,"t":0.76,"v":5.35,"g":"n1"},
{"k":6,"t":-0.24,"v":6.34,"g":"n0"},{"k":6,"t":-0.04,"v":6,"g":"n0"},{"k":6,"t":-0.04,"v":6,"g":"p1"},{"k":6,"t":0.26,"v":5.3,"g":"p1"},{"k":6,"t":0.53,"v":6,"g":"p1"},{"k":6,"t":0.53,"v":6,"g":"n1"},{"k":6,"t":0.69,"v":6.41,"g":"n1"},{"k":6,"t":0.76,"v":6.35,"g":"n1"},
{"k":7,"t":-0.23,"v":7.34,"g":"n0"},{"k":7,"t":-0.04,"v":7,"g":"n0"},{"k":7,"t":-0.04,"v":7,"g":"p1"},{"k":7,"t":0.26,"v":6.3,"g":"p1"},{"k":7,"t":0.53,"v":7,"g":"p1"},{"k":7,"t":0.53,"v":7,"g":"n1"},{"k":7,"t":0.69,"v":7.41,"g":"n1"},{"k":7,"t":0.77,"v":7.35,"g":"n1"},
{"k":8,"t":-0.23,"v":8.34,"g":"n0"},{"k":8,"t":-0.04,"v":8,"g":"n0"},{"k":8,"t":-0.04,"v":8,"g":"p1"},{"k":8,"t":0.26,"v":7.3,"g":"p1"},{"k":8,"t":0.53,"v":8,"g":"p1"},{"k":8,"t":0.53,"v":8,"g":"n1"},{"k":8,"t":0.69,"v":8.41,"g":"n1"},{"k":8,"t":0.77,"v":8.35,"g":"n1"},
{"k":9,"t":-0.23,"v":9.34,"g":"n0"},{"k":9,"t":-0.04,"v":9,"g":"n0"},{"k":9,"t":-0.04,"v":9,"g":"p1"},{"k":9,"t":0.26,"v":8.3,"g":"p1"},{"k":9,"t":0.53,"v":9,"g":"p1"},{"k":9,"t":0.53,"v":9,"g":"n1"},{"k":9,"t":0.69,"v":9.41,"g":"n1"},{"k":9,"t":0.77,"v":9.35,"g":"n1"},
{"k":10,"t":-0.23,"v":10.31,"g":"n0"},{"k":10,"t":-0.06,"v":10,"g":"n0"},{"k":10,"t":-0.06,"v":10,"g":"p1"},{"k":10,"t":0.25,"v":9.3,"g":"p1"},{"k":10,"t":0.51,"v":10,"g":"p1"},{"k":10,"t":0.51,"v":10,"g":"n1"},{"k":10,"t":0.69,"v":10.42,"g":"n1"},{"k":10,"t":0.77,"v":10.33,"g":"n1"},
{"k":11,"t":-0.22,"v":11.31,"g":"n0"},{"k":11,"t":-0.06,"v":11,"g":"n0"},{"k":11,"t":-0.06,"v":11,"g":"p1"},{"k":11,"t":0.25,"v":10.3,"g":"p1"},{"k":11,"t":0.51,"v":11,"g":"p1"},{"k":11,"t":0.51,"v":11,"g":"n1"},{"k":11,"t":0.69,"v":11.42,"g":"n1"},{"k":11,"t":0.78,"v":11.33,"g":"n1"},
{"k":12,"t":-0.22,"v":12.31,"g":"n0"},{"k":12,"t":-0.06,"v":12,"g":"n0"},{"k":12,"t":-0.06,"v":12,"g":"p1"},{"k":12,"t":0.25,"v":11.3,"g":"p1"},{"k":12,"t":0.51,"v":12,"g":"p1"},{"k":12,"t":0.51,"v":12,"g":"n1"},{"k":12,"t":0.69,"v":12.42,"g":"n1"},{"k":12,"t":0.78,"v":12.33,"g":"n1"},
{"k":13,"t":-0.22,"v":13.31,"g":"n0"},{"k":13,"t":-0.06,"v":13,"g":"n0"},{"k":13,"t":-0.06,"v":13,"g":"p1"},{"k":13,"t":0.25,"v":12.3,"g":"p1"},{"k":13,"t":0.51,"v":13,"g":"p1"},{"k":13,"t":0.51,"v":13,"g":"n1"},{"k":13,"t":0.69,"v":13.42,"g":"n1"},{"k":13,"t":0.78,"v":13.33,"g":"n1"},
{"k":14,"t":-0.21,"v":14.31,"g":"n0"},{"k":14,"t":-0.06,"v":14,"g":"n0"},{"k":14,"t":-0.06,"v":14,"g":"p1"},{"k":14,"t":0.25,"v":13.3,"g":"p1"},{"k":14,"t":0.51,"v":14,"g":"p1"},{"k":14,"t":0.51,"v":14,"g":"n1"},{"k":14,"t":0.69,"v":14.42,"g":"n1"},{"k":14,"t":0.79,"v":14.33,"g":"n1"},
{"k":15,"t":-0.21,"v":15.27,"g":"n0"},{"k":15,"t":-0.08,"v":15,"g":"n0"},{"k":15,"t":-0.08,"v":15,"g":"p1"},{"k":15,"t":0.24,"v":14.3,"g":"p1"},{"k":15,"t":0.49,"v":15,"g":"p1"},{"k":15,"t":0.49,"v":15,"g":"n1"},{"k":15,"t":0.68,"v":15.43,"g":"n1"},{"k":15,"t":0.79,"v":15.31,"g":"n1"},
{"k":16,"t":-0.21,"v":16.27,"g":"n0"},{"k":16,"t":-0.08,"v":16,"g":"n0"},{"k":16,"t":-0.08,"v":16,"g":"p1"},{"k":16,"t":0.24,"v":15.3,"g":"p1"},{"k":16,"t":0.49,"v":16,"g":"p1"},{"k":16,"t":0.49,"v":16,"g":"n1"},{"k":16,"t":0.68,"v":16.43,"g":"n1"},{"k":16,"t":0.79,"v":16.31,"g":"n1"},
{"k":17,"t":-0.2,"v":17.27,"g":"n0"},{"k":17,"t":-0.08,"v":17,"g":"n0"},{"k":17,"t":-0.08,"v":17,"g":"p1"},{"k":17,"t":0.24,"v":16.3,"g":"p1"},{"k":17,"t":0.49,"v":17,"g":"p1"},{"k":17,"t":0.49,"v":17,"g":"n1"},{"k":17,"t":0.68,"v":17.43,"g":"n1"},{"k":17,"t":0.8,"v":17.31,"g":"n1"},
{"k":18,"t":-0.2,"v":18.27,"g":"n0"},{"k":18,"t":-0.08,"v":18,"g":"n0"},{"k":18,"t":-0.08,"v":18,"g":"p1"},{"k":18,"t":0.24,"v":17.3,"g":"p1"},{"k":18,"t":0.49,"v":18,"g":"p1"},{"k":18,"t":0.49,"v":18,"g":"n1"},{"k":18,"t":0.68,"v":18.43,"g":"n1"},{"k":18,"t":0.8,"v":18.31,"g":"n1"},
{"k":19,"t":-0.2,"v":19.27,"g":"n0"},{"k":19,"t":-0.08,"v":19,"g":"n0"},{"k":19,"t":-0.08,"v":19,"g":"p1"},{"k":19,"t":0.24,"v":18.3,"g":"p1"},{"k":19,"t":0.49,"v":19,"g":"p1"},{"k":19,"t":0.49,"v":19,"g":"n1"},{"k":19,"t":0.68,"v":19.43,"g":"n1"},{"k":19,"t":0.8,"v":19.31,"g":"n1"},
{"k":20,"t":-0.2,"v":20.23,"g":"n0"},{"k":20,"t":-0.09,"v":20,"g":"n0"},{"k":20,"t":-0.09,"v":20,"g":"p1"},{"k":20,"t":0.22,"v":19.3,"g":"p1"},{"k":20,"t":0.47,"v":20,"g":"p1"},{"k":20,"t":0.47,"v":20,"g":"n1"},{"k":20,"t":0.67,"v":20.46,"g":"n1"},{"k":20,"t":0.8,"v":20.28,"g":"n1"},
{"k":21,"t":-0.19,"v":21.23,"g":"n0"},{"k":21,"t":-0.09,"v":21,"g":"n0"},{"k":21,"t":-0.09,"v":21,"g":"p1"},{"k":21,"t":0.22,"v":20.3,"g":"p1"},{"k":21,"t":0.47,"v":21,"g":"p1"},{"k":21,"t":0.47,"v":21,"g":"n1"},{"k":21,"t":0.67,"v":21.46,"g":"n1"},{"k":21,"t":0.81,"v":21.28,"g":"n1"},
{"k":22,"t":-0.19,"v":22.23,"g":"n0"},{"k":22,"t":-0.09,"v":22,"g":"n0"},{"k":22,"t":-0.09,"v":22,"g":"p1"},{"k":22,"t":0.22,"v":21.3,"g":"p1"},{"k":22,"t":0.47,"v":22,"g":"p1"},{"k":22,"t":0.47,"v":22,"g":"n1"},{"k":22,"t":0.67,"v":22.46,"g":"n1"},{"k":22,"t":0.81,"v":22.28,"g":"n1"},
{"k":23,"t":-0.19,"v":23.23,"g":"n0"},{"k":23,"t":-0.09,"v":23,"g":"n0"},{"k":23,"t":-0.09,"v":23,"g":"p1"},{"k":23,"t":0.22,"v":22.3,"g":"p1"},{"k":23,"t":0.47,"v":23,"g":"p1"},{"k":23,"t":0.47,"v":23,"g":"n1"},{"k":23,"t":0.67,"v":23.46,"g":"n1"},{"k":23,"t":0.81,"v":23.28,"g":"n1"},
{"k":24,"t":-0.18,"v":24.23,"g":"n0"},{"k":24,"t":-0.09,"v":24,"g":"n0"},{"k":24,"t":-0.09,"v":24,"g":"p1"},{"k":24,"t":0.22,"v":23.3,"g":"p1"},{"k":24,"t":0.47,"v":24,"g":"p1"},{"k":24,"t":0.47,"v":24,"g":"n1"},{"k":24,"t":0.67,"v":24.46,"g":"n1"},{"k":24,"t":0.82,"v":24.28,"g":"n1"},
{"k":25,"t":-0.18,"v":25.18,"g":"n0"},{"k":25,"t":-0.09,"v":25,"g":"n0"},{"k":25,"t":-0.09,"v":25,"g":"p1"},{"k":25,"t":0.2,"v":24.3,"g":"p1"},{"k":25,"t":0.45,"v":25,"g":"p1"},{"k":25,"t":0.45,"v":25,"g":"n1"},{"k":25,"t":0.66,"v":25.52,"g":"n1"},{"k":25,"t":0.82,"v":25.24,"g":"n1"},
{"k":26,"t":-0.18,"v":26.18,"g":"n0"},{"k":26,"t":-0.09,"v":26,"g":"n0"},{"k":26,"t":-0.09,"v":26,"g":"p1"},{"k":26,"t":0.2,"v":25.3,"g":"p1"},{"k":26,"t":0.45,"v":26,"g":"p1"},{"k":26,"t":0.45,"v":26,"g":"n1"},{"k":26,"t":0.66,"v":26.52,"g":"n1"},{"k":26,"t":0.82,"v":26.24,"g":"n1"},
{"k":27,"t":-0.17,"v":27.18,"g":"n0"},{"k":27,"t":-0.09,"v":27,"g":"n0"},{"k":27,"t":-0.09,"v":27,"g":"p1"},{"k":27,"t":0.2,"v":26.3,"g":"p1"},{"k":27,"t":0.45,"v":27,"g":"p1"},{"k":27,"t":0.45,"v":27,"g":"n1"},{"k":27,"t":0.66,"v":27.52,"g":"n1"},{"k":27,"t":0.83,"v":27.24,"g":"n1"},
{"k":28,"t":-0.17,"v":28.18,"g":"n0"},{"k":28,"t":-0.09,"v":28,"g":"n0"},{"k":28,"t":-0.09,"v":28,"g":"p1"},{"k":28,"t":0.2,"v":27.3,"g":"p1"},{"k":28,"t":0.45,"v":28,"g":"p1"},{"k":28,"t":0.45,"v":28,"g":"n1"},{"k":28,"t":0.66,"v":28.52,"g":"n1"},{"k":28,"t":0.83,"v":28.24,"g":"n1"},
{"k":29,"t":-0.17,"v":29.18,"g":"n0"},{"k":29,"t":-0.09,"v":29,"g":"n0"},{"k":29,"t":-0.09,"v":29,"g":"p1"},{"k":29,"t":0.2,"v":28.3,"g":"p1"},{"k":29,"t":0.45,"v":29,"g":"p1"},{"k":29,"t":0.45,"v":29,"g":"n1"},{"k":29,"t":0.66,"v":29.52,"g":"n1"},{"k":29,"t":0.83,"v":29.24,"g":"n1"},
{"k":30,"t":-0.16,"v":30.14,"g":"n0"},{"k":30,"t":-0.1,"v":30,"g":"n0"},{"k":30,"t":-0.1,"v":30,"g":"p1"},{"k":30,"t":0.18,"v":29.3,"g":"p1"},{"k":30,"t":0.43,"v":30,"g":"p1"},{"k":30,"t":0.43,"v":30,"g":"n1"},{"k":30,"t":0.65,"v":30.57,"g":"n1"},{"k":30,"t":0.84,"v":30.2,"g":"n1"},
{"k":31,"t":-0.16,"v":31.14,"g":"n0"},{"k":31,"t":-0.1,"v":31,"g":"n0"},{"k":31,"t":-0.1,"v":31,"g":"p1"},{"k":31,"t":0.18,"v":30.3,"g":"p1"},{"k":31,"t":0.43,"v":31,"g":"p1"},{"k":31,"t":0.43,"v":31,"g":"n1"},{"k":31,"t":0.65,"v":31.57,"g":"n1"},{"k":31,"t":0.84,"v":31.2,"g":"n1"},
{"k":32,"t":-0.16,"v":32.14,"g":"n0"},{"k":32,"t":-0.1,"v":32,"g":"n0"},{"k":32,"t":-0.1,"v":32,"g":"p1"},{"k":32,"t":0.18,"v":31.3,"g":"p1"},{"k":32,"t":0.43,"v":32,"g":"p1"},{"k":32,"t":0.43,"v":32,"g":"n1"},{"k":32,"t":0.65,"v":32.57,"g":"n1"},{"k":32,"t":0.84,"v":32.2,"g":"n1"},
{"k":33,"t":-0.16,"v":33.14,"g":"n0"},{"k":33,"t":-0.1,"v":33,"g":"n0"},{"k":33,"t":-0.1,"v":33,"g":"p1"},{"k":33,"t":0.18,"v":32.3,"g":"p1"},{"k":33,"t":0.43,"v":33,"g":"p1"},{"k":33,"t":0.43,"v":33,"g":"n1"},{"k":33,"t":0.65,"v":33.57,"g":"n1"},{"k":33,"t":0.84,"v":33.2,"g":"n1"},
{"k":34,"t":-0.15,"v":34.14,"g":"n0"},{"k":34,"t":-0.1,"v":34,"g":"n0"},{"k":34,"t":-0.1,"v":34,"g":"p1"},{"k":34,"t":0.18,"v":33.3,"g":"p1"},{"k":34,"t":0.43,"v":34,"g":"p1"},{"k":34,"t":0.43,"v":34,"g":"n1"},{"k":34,"t":0.65,"v":34.57,"g":"n1"},{"k":34,"t":0.85,"v":34.2,"g":"n1"},
{"k":35,"t":-0.15,"v":35.09,"g":"n0"},{"k":35,"t":-0.1,"v":35,"g":"n0"},{"k":35,"t":-0.1,"v":35,"g":"p1"},{"k":35,"t":0.16,"v":34.3,"g":"p1"},{"k":35,"t":0.41,"v":35,"g":"p1"},{"k":35,"t":0.41,"v":35,"g":"n1"},{"k":35,"t":0.64,"v":35.62,"g":"n1"},{"k":35,"t":0.85,"v":35.17,"g":"n1"},
{"k":36,"t":-0.15,"v":36.09,"g":"n0"},{"k":36,"t":-0.1,"v":36,"g":"n0"},{"k":36,"t":-0.1,"v":36,"g":"p1"},{"k":36,"t":0.16,"v":35.3,"g":"p1"},{"k":36,"t":0.41,"v":36,"g":"p1"},{"k":36,"t":0.41,"v":36,"g":"n1"},{"k":36,"t":0.64,"v":36.62,"g":"n1"},{"k":36,"t":0.85,"v":36.17,"g":"n1"},
{"k":37,"t":-0.14,"v":37.09,"g":"n0"},{"k":37,"t":-0.1,"v":37,"g":"n0"},{"k":37,"t":-0.1,"v":37,"g":"p1"},{"k":37,"t":0.16,"v":36.3,"g":"p1"},{"k":37,"t":0.41,"v":37,"g":"p1"},{"k":37,"t":0.41,"v":37,"g":"n1"},{"k":37,"t":0.64,"v":37.62,"g":"n1"},{"k":37,"t":0.86,"v":37.17,"g":"n1"},
{"k":38,"t":-0.14,"v":38.09,"g":"n0"},{"k":38,"t":-0.1,"v":38,"g":"n0"},{"k":38,"t":-0.1,"v":38,"g":"p1"},{"k":38,"t":0.16,"v":37.3,"g":"p1"},{"k":38,"t":0.41,"v":38,"g":"p1"},{"k":38,"t":0.41,"v":38,"g":"n1"},{"k":38,"t":0.64,"v":38.62,"g":"n1"},{"k":38,"t":0.86,"v":38.17,"g":"n1"},
{"k":39,"t":-0.14,"v":39.09,"g":"n0"},{"k":39,"t":-0.1,"v":39,"g":"n0"},{"k":39,"t":-0.1,"v":39,"g":"p1"},{"k":39,"t":0.16,"v":38.3,"g":"p1"},{"k":39,"t":0.41,"v":39,"g":"p1"},{"k":39,"t":0.41,"v":39,"g":"n1"},{"k":39,"t":0.64,"v":39.62,"g":"n1"},{"k":39,"t":0.86,"v":39.17,"g":"n1"},
{"k":40,"t":-0.14,"v":40.04,"g":"n0"},{"k":40,"t":-0.1,"v":40,"g":"n0"},{"k":40,"t":-0.1,"v":40,"g":"p1"},{"k":40,"t":0.14,"v":39.3,"g":"p1"},{"k":40,"t":0.39,"v":40,"g":"p1"},{"k":40,"t":0.39,"v":40,"g":"n1"},{"k":40,"t":0.63,"v":40.68,"g":"n1"},{"k":40,"t":0.86,"v":40.13,"g":"n1"},
{"k":41,"t":-0.13,"v":41.04,"g":"n0"},{"k":41,"t":-0.1,"v":41,"g":"n0"},{"k":41,"t":-0.1,"v":41,"g":"p1"},{"k":41,"t":0.14,"v":40.3,"g":"p1"},{"k":41,"t":0.39,"v":41,"g":"p1"},{"k":41,"t":0.39,"v":41,"g":"n1"},{"k":41,"t":0.63,"v":41.68,"g":"n1"},{"k":41,"t":0.87,"v":41.13,"g":"n1"},
{"k":42,"t":-0.13,"v":42.04,"g":"n0"},{"k":42,"t":-0.1,"v":42,"g":"n0"},{"k":42,"t":-0.1,"v":42,"g":"p1"},{"k":42,"t":0.14,"v":41.3,"g":"p1"},{"k":42,"t":0.39,"v":42,"g":"p1"},{"k":42,"t":0.39,"v":42,"g":"n1"},{"k":42,"t":0.63,"v":42.68,"g":"n1"},{"k":42,"t":0.87,"v":42.13,"g":"n1"},
{"k":43,"t":-0.13,"v":43.04,"g":"n0"},{"k":43,"t":-0.1,"v":43,"g":"n0"},{"k":43,"t":-0.1,"v":43,"g":"p1"},{"k":43,"t":0.14,"v":42.3,"g":"p1"},{"k":43,"t":0.39,"v":43,"g":"p1"},{"k":43,"t":0.39,"v":43,"g":"n1"},{"k":43,"t":0.63,"v":43.68,"g":"n1"},{"k":43,"t":0.87,"v":43.13,"g":"n1"},
{"k":44,"t":-0.12,"v":44.04,"g":"n0"},{"k":44,"t":-0.1,"v":44,"g":"n0"},{"k":44,"t":-0.1,"v":44,"g":"p1"},{"k":44,"t":0.14,"v":43.3,"g":"p1"},{"k":44,"t":0.39,"v":44,"g":"p1"},{"k":44,"t":0.39,"v":44,"g":"n1"},{"k":44,"t":0.63,"v":44.68,"g":"n1"},{"k":44,"t":0.88,"v":44.13,"g":"n1"},
{"k":45,"t":-0.12,"v":45.04,"g":"n0"},{"k":45,"t":-0.1,"v":45,"g":"n0"},{"k":45,"t":-0.1,"v":45,"g":"p1"},{"k":45,"t":0.14,"v":44.3,"g":"p1"},{"k":45,"t":0.39,"v":45,"g":"p1"},{"k":45,"t":0.39,"v":45,"g":"n1"},{"k":45,"t":0.63,"v":45.68,"g":"n1"},{"k":45,"t":0.88,"v":45.13,"g":"n1"}
]
},
"hconcat": [
{
 "width": 184, "height": 984,
 "resolve": {"axis": {"x": "independent"}},
 "layer": [
  {"data": {"name": "wa"}, "transform": [{"filter": "isValid(datum.g)"}],
   "mark": {"type": "area", "interpolate": "monotone", "clip": true},
   "encoding": {
    "x": {"field": "t", "type": "quantitative", "scale": {"domain": [-2, 2], "nice": false, "zero": false},
      "axis": {"orient": "bottom", "values": [-2,-1.75,-1.5,-1.25,-1,-0.75,-0.5,-0.25,0,0.25,0.5,0.75,1,1.25,1.5,1.75,2], "grid": true, "gridColor": "black", "gridWidth": 1, "gridOpacity": 1, "ticks": false, "labels": false, "title": null}},
    "y": {"field": "v", "type": "quantitative", "stack": null, "scale": {"domain": [-1.96, 46.96], "reverse": true, "nice": false, "zero": false}, "axis": null},
    "y2": {"field": "k"},
    "color": {"field": "g", "type": "nominal", "scale": {"domain": ["p1","p2","n0","n1"], "range": ["#0000ff","#0000ff","#ff0000","#ff0000"]}, "legend": null},
    "detail": {"field": "k"}
   }},
  {"data": {"name": "wa"},
   "mark": {"type": "line", "interpolate": "monotone", "color": "black", "strokeWidth": 1.2, "clip": true},
   "encoding": {
    "x": {"field": "t", "type": "quantitative", "scale": {"domain": [-2, 2], "nice": false, "zero": false},
      "axis": {"orient": "bottom", "tickCount": 80, "ticks": true, "tickSize": -5, "tickColor": "black", "tickWidth": 1, "grid": false,
        "labelExpr": "abs(datum.value-round(datum.value))<0.001 ? format(datum.value,'d') : ''", "labelFontSize": 16.4, "labelPadding": 19,
        "title": "Relative time (s)", "titleFontSize": 18.2, "titleY": 80, "titleBaseline": "alphabetic"}},
    "y": {"field": "v", "type": "quantitative", "scale": {"domain": [-1.96, 46.96], "reverse": true, "nice": false, "zero": false}, "axis": null},
    "detail": {"field": "k"}
   }},
  {"data": {"name": "gl"},
   "mark": {"type": "line", "color": "#3fbf3f", "strokeWidth": 2.5},
   "encoding": {
    "x": {"field": "t", "type": "quantitative", "scale": {"domain": [-2, 2], "nice": false, "zero": false},
      "axis": {"orient": "top", "tickCount": 80, "ticks": true, "tickSize": -5, "tickColor": "black", "tickWidth": 1, "grid": false,
        "labelExpr": "abs(datum.value-round(datum.value))<0.001 ? format(datum.value,'d') : ''", "labelFontSize": 16.4, "labelPadding": 13, "title": null}},
    "y": {"field": "k", "type": "quantitative", "axis": null}
   }},
  {"data": {"name": "dt"},
   "mark": {"type": "text", "align": "right", "baseline": "middle", "dx": -17, "fontSize": 14.7, "fontWeight": "bold", "color": "#6e6e6e"},
   "encoding": {
    "x": {"datum": -2, "type": "quantitative", "axis": null},
    "y": {"field": "k", "type": "quantitative", "axis": null},
    "text": {"field": "n"}
   }},
  {"data": {"name": "lab"}, "transform": [{"filter": "datum.p == '(a)'"}],
   "mark": {"type": "text", "font": "Liberation Sans", "fontSize": 19, "fontWeight": "bold", "color": "#505050", "align": "center", "baseline": "middle"},
   "encoding": {
    "x": {"field": "x", "type": "quantitative", "axis": null},
    "y": {"field": "y", "type": "quantitative", "axis": null},
    "text": {"field": "p"}
   }}
 ]
},
{
 "width": 123, "height": 984,
 "resolve": {"axis": {"x": "independent"}},
 "layer": [
  {"data": {"name": "dt"},
   "mark": {"type": "rule", "color": "#333333", "strokeWidth": 1.2},
   "encoding": {
    "x": {"field": "lo", "type": "quantitative", "scale": {"domain": [-0.2, 0.8], "nice": false, "zero": false},
      "axis": {"orient": "bottom", "values": [0, 0.25, 0.5, 0.75], "grid": true, "gridColor": "black", "gridWidth": 1, "ticks": false, "labels": false, "title": null}},
    "x2": {"field": "hi"},
    "y": {"field": "k", "type": "quantitative", "scale": {"domain": [-1.96, 46.96], "reverse": true, "nice": false, "zero": false}, "axis": null}
   }},
  {"data": {"name": "dt"},
   "mark": {"type": "tick", "orient": "vertical", "size": 8, "thickness": 1.2, "color": "#333333"},
   "encoding": {
    "x": {"field": "lo", "type": "quantitative", "axis": null},
    "y": {"field": "k", "type": "quantitative", "axis": null}
   }},
  {"data": {"name": "dt"},
   "mark": {"type": "tick", "orient": "vertical", "size": 8, "thickness": 1.2, "color": "#333333"},
   "encoding": {
    "x": {"field": "hi", "type": "quantitative", "axis": null},
    "y": {"field": "k", "type": "quantitative", "axis": null}
   }},
  {"data": {"name": "dt"},
   "mark": {"type": "circle", "size": 80, "fill": "#c4c4c4", "stroke": "#333333", "strokeWidth": 1, "opacity": 1},
   "encoding": {
    "x": {"field": "d", "type": "quantitative",
      "axis": {"orient": "bottom", "tickCount": 20, "ticks": true, "tickSize": -5, "tickColor": "black", "tickWidth": 1, "grid": false,
        "labelExpr": "abs(datum.value*2-round(datum.value*2))<0.001 && datum.value > -0.01 && datum.value < 0.6 ? format(datum.value,'.1f') : ''", "labelFontSize": 16.4, "labelPadding": 19,
        "title": "Δt from EW51", "titleFontSize": 14, "titleY": 80, "titleBaseline": "alphabetic"}},
    "y": {"field": "k", "type": "quantitative", "axis": null}
   }},
  {"data": {"name": "lab"}, "transform": [{"filter": "datum.p == '(b)'"}],
   "mark": {"type": "text", "font": "Liberation Sans", "fontSize": 19, "fontWeight": "bold", "color": "#505050", "align": "center", "baseline": "middle"},
   "encoding": {
    "x": {"field": "x", "type": "quantitative",
      "axis": {"orient": "top", "tickCount": 20, "ticks": true, "tickSize": -5, "tickColor": "black", "tickWidth": 1, "grid": false,
        "labelExpr": "abs(datum.value*2-round(datum.value*2))<0.001 && datum.value > -0.01 && datum.value < 0.6 ? format(datum.value,'.1f') : ''", "labelFontSize": 16.4, "labelPadding": 13, "title": null}},
    "y": {"field": "y", "type": "quantitative", "axis": null},
    "text": {"field": "p"}
   }}
 ]
},
{
 "width": 184, "height": 984,
 "resolve": {"axis": {"x": "independent"}},
 "layer": [
  {"data": {"name": "wc"},
   "mark": {"type": "area", "interpolate": "monotone", "clip": true},
   "encoding": {
    "x": {"field": "t", "type": "quantitative", "scale": {"domain": [-2, 2], "nice": false, "zero": false},
      "axis": {"orient": "bottom", "values": [-2,-1.75,-1.5,-1.25,-1,-0.75,-0.5,-0.25,0,0.25,0.5,0.75,1,1.25,1.5,1.75,2], "grid": true, "gridColor": "black", "gridWidth": 1, "ticks": false, "labels": false, "title": null}},
    "y": {"field": "v", "type": "quantitative", "stack": null, "scale": {"domain": [-1.96, 46.96], "reverse": true, "nice": false, "zero": false}, "axis": null},
    "y2": {"field": "k"},
    "color": {"field": "g", "type": "nominal", "scale": {"domain": ["p1","p2","n0","n1"], "range": ["#0000ff","#0000ff","#ff0000","#ff0000"]}, "legend": null},
    "detail": {"field": "k"}
   }},
  {"data": {"name": "wc"},
   "mark": {"type": "line", "interpolate": "monotone", "color": "black", "strokeWidth": 1.2, "clip": true},
   "encoding": {
    "x": {"field": "t", "type": "quantitative", "scale": {"domain": [-2, 2], "nice": false, "zero": false},
      "axis": {"orient": "bottom", "tickCount": 80, "ticks": true, "tickSize": -5, "tickColor": "black", "tickWidth": 1, "grid": false,
        "labelExpr": "abs(datum.value-round(datum.value))<0.001 ? format(datum.value,'d') : ''", "labelFontSize": 16.4, "labelPadding": 19,
        "title": "Relative time (s)", "titleFontSize": 18.2, "titleY": 80, "titleBaseline": "alphabetic"}},
    "y": {"field": "v", "type": "quantitative", "axis": null},
    "detail": {"field": "k"}
   }},
  {"data": {"name": "lab"}, "transform": [{"filter": "datum.p == '(c)'"}],
   "mark": {"type": "text", "font": "Liberation Sans", "fontSize": 19, "fontWeight": "bold", "color": "#505050", "align": "center", "baseline": "middle"},
   "encoding": {
    "x": {"field": "x", "type": "quantitative",
      "axis": {"orient": "top", "tickCount": 80, "ticks": true, "tickSize": -5, "tickColor": "black", "tickWidth": 1, "grid": false,
        "labelExpr": "abs(datum.value-round(datum.value))<0.001 ? format(datum.value,'d') : ''", "labelFontSize": 16.4, "labelPadding": 13, "title": null}},
    "y": {"field": "y", "type": "quantitative", "axis": null},
    "text": {"field": "p"}
   }}
 ]
}
]
}
